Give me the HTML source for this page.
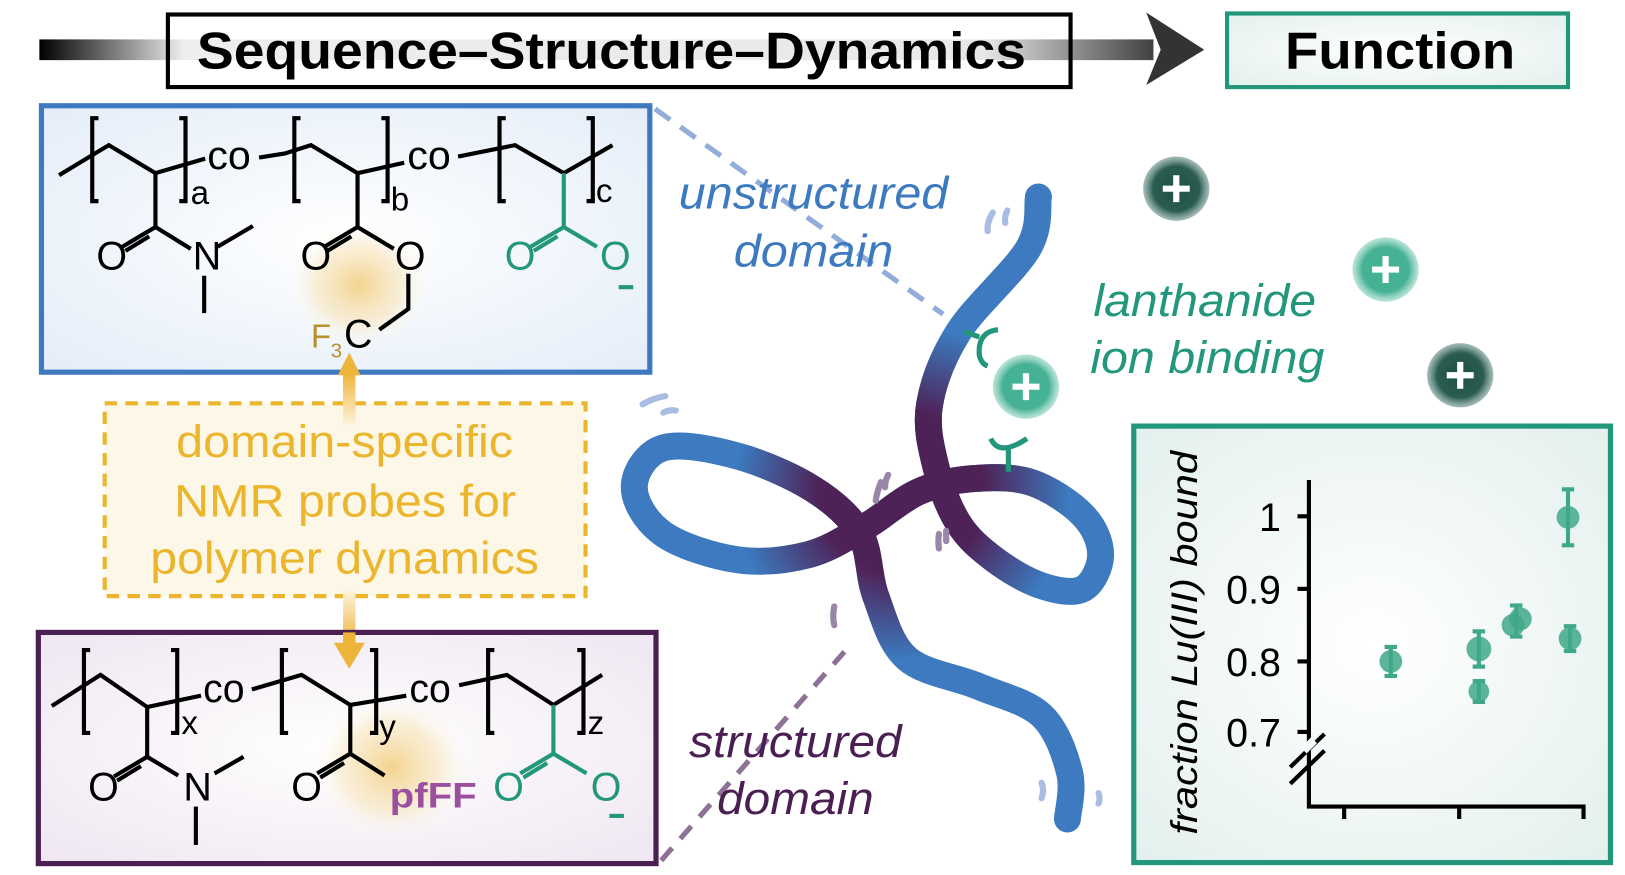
<!DOCTYPE html>
<html><head><meta charset="utf-8"><style>html,body{margin:0;padding:0;background:#fff}svg{display:block}text{font-family:"Liberation Sans",sans-serif}</style></head>
<body>
<svg width="1625" height="875" viewBox="0 0 1568 844" preserveAspectRatio="none" xmlns="http://www.w3.org/2000/svg">
<defs>
<linearGradient id="bar" x1="38" x2="1110" y1="0" y2="0" gradientUnits="userSpaceOnUse">
<stop offset="0" stop-color="#000"/><stop offset="0.13" stop-color="#eee"/><stop offset="0.85" stop-color="#e8e8e8"/><stop offset="1" stop-color="#444"/></linearGradient>
<radialGradient id="blueBg" cx="0.5" cy="0.5" r="0.7"><stop offset="0" stop-color="#fff"/><stop offset="1" stop-color="#e4edf8"/></radialGradient>
<radialGradient id="purBg" cx="0.5" cy="0.5" r="0.7"><stop offset="0" stop-color="#fff"/><stop offset="1" stop-color="#efe6f1"/></radialGradient>
<radialGradient id="tealBg" cx="0.5" cy="0.5" r="0.7"><stop offset="0" stop-color="#fff"/><stop offset="1" stop-color="#e3f0ed"/></radialGradient>
<radialGradient id="glow"><stop offset="0" stop-color="#f3d38e"/><stop offset="0.6" stop-color="#f8e6be" stop-opacity="0.6"/><stop offset="1" stop-color="#fff" stop-opacity="0"/></radialGradient>
<radialGradient id="ionL"><stop offset="0" stop-color="#3fb392"/><stop offset="0.7" stop-color="#47b195"/><stop offset="1" stop-color="#8fd3c0" stop-opacity="0.6"/></radialGradient>
<radialGradient id="ionD"><stop offset="0" stop-color="#1d4f45"/><stop offset="0.7" stop-color="#2a5c52"/><stop offset="1" stop-color="#6b928a" stop-opacity="0.6"/></radialGradient>
<radialGradient id="mg" cx="870" cy="475" r="160" gradientUnits="userSpaceOnUse"><stop offset="0" stop-color="#fff"/><stop offset="0.5" stop-color="#fff"/><stop offset="1" stop-color="#000"/></radialGradient>
<mask id="m"><rect width="1568" height="844" fill="url(#mg)"/></mask>
<linearGradient id="arrUp" x1="0" y1="1" x2="0" y2="0"><stop offset="0" stop-color="#fdf3dc"/><stop offset="1" stop-color="#eeb43a"/></linearGradient>
<linearGradient id="arrDn" x1="0" y1="0" x2="0" y2="1"><stop offset="0" stop-color="#fdf3dc"/><stop offset="1" stop-color="#eeb43a"/></linearGradient>
</defs>

<rect x="38" y="38" width="1075" height="20" fill="url(#bar)"/>
<path d="M1106 12 L1162 48 L1106 82 L1120 48 Z" fill="#333"/>
<rect x="162" y="14" width="871" height="70" fill="none" stroke="#000" stroke-width="4"/>
<text x="190" y="66" font-size="50" font-weight="bold" textLength="800" lengthAdjust="spacingAndGlyphs">Sequence–Structure–Dynamics</text>
<rect x="1184" y="13" width="329" height="71" fill="url(#tealBg)" stroke="#23977b" stroke-width="4"/>
<text x="1240" y="66" font-size="50" font-weight="bold" textLength="222" lengthAdjust="spacingAndGlyphs">Function</text>

<rect x="40" y="102" width="587" height="257" fill="url(#blueBg)" stroke="#3d7abf" stroke-width="5"/>
<ellipse cx="346" cy="275" rx="70" ry="62" fill="url(#glow)"/>
<g stroke="#000" stroke-width="4" fill="none">
<polyline points="57,169 105,140 150,167 198,153"/>
<line x1="150" y1="167" x2="150" y2="219"/>
<line x1="150" y1="219" x2="118" y2="238"/><line x1="144" y1="228" x2="121" y2="242" />
<line x1="150" y1="219" x2="184" y2="240"/>
<line x1="210" y1="238" x2="244" y2="218"/><line x1="197" y1="266" x2="197" y2="302"/>
<path d="M95 114 h-6 v80 h6 M173 114 h6 v80 h-6"/>
<polyline points="250,152 275,148 300,140 345,167 390,157"/>
<line x1="345" y1="167" x2="345" y2="219"/>
<line x1="345" y1="219" x2="313" y2="238"/><line x1="339" y1="228" x2="316" y2="242"/>
<line x1="345" y1="219" x2="380" y2="240"/>
<polyline points="394,264 394,298 366,318"/>
<path d="M290 114 h-6 v80 h6 M368 114 h6 v80 h-6"/>
<polyline points="442,151 497,140 544,167 591,140"/>
<path d="M488 114 h-6 v80 h6 M566 114 h6 v80 h-6"/>
</g>
<g stroke="#23977b" stroke-width="4" fill="none">
<line x1="544" y1="167" x2="544" y2="219"/>
<line x1="544" y1="219" x2="512" y2="238"/><line x1="538" y1="228" x2="515" y2="242"/>
<line x1="544" y1="219" x2="576" y2="238"/>
<line x1="597" y1="277" x2="611" y2="277"/>
</g>
<g font-size="38">
<text x="200" y="163" textLength="42" lengthAdjust="spacingAndGlyphs">co</text>
<text x="393" y="163" textLength="42" lengthAdjust="spacingAndGlyphs">co</text>
<text x="184" y="197" font-size="32">a</text><text x="377" y="203" font-size="32">b</text><text x="575" y="195" font-size="32">c</text>
<text x="93" y="260">O</text><text x="186" y="260">N</text>
<text x="290" y="260">O</text><text x="381" y="260">O</text>
<text x="487" y="260" fill="#23977b">O</text><text x="579" y="260" fill="#23977b">O</text>
<text x="300" y="335" fill="#b8902e" font-size="32">F</text><text x="319" y="345" fill="#b8902e" font-size="20">3</text><text x="332" y="335">C</text>
</g>

<rect x="101" y="389" width="464" height="186" fill="#fdf7e8" stroke="#ebb52c" stroke-width="4" stroke-dasharray="12 8"/>
<rect x="331" y="360" width="12" height="50" fill="url(#arrUp)"/>
<path d="M326 362 L337 340 L348 362 Z" fill="#eeb43a"/>
<rect x="331" y="570" width="12" height="52" fill="url(#arrDn)"/>
<g fill="#ebb52c" font-size="44">
<text x="170" y="441" textLength="325" lengthAdjust="spacingAndGlyphs">domain-specific</text>
<text x="168" y="498" textLength="330" lengthAdjust="spacingAndGlyphs">NMR probes for</text>
<text x="145" y="553" textLength="375" lengthAdjust="spacingAndGlyphs">polymer dynamics</text>
</g>

<rect x="37" y="610" width="596" height="223" fill="url(#purBg)" stroke="#4a1f52" stroke-width="5"/>
<ellipse cx="378" cy="740" rx="78" ry="72" fill="url(#glow)"/>
<rect x="331" y="610" width="12" height="14" fill="#eeb43a"/>
<path d="M322 620 L337 645 L352 620 Z" fill="#eeb43a"/>
<g stroke="#000" stroke-width="4" fill="none">
<polyline points="50,681 97,651 142,682 194,671"/>
<line x1="142" y1="682" x2="142" y2="730"/>
<line x1="142" y1="730" x2="110" y2="749"/><line x1="136" y1="739" x2="113" y2="753"/>
<line x1="142" y1="730" x2="172" y2="748"/>
<line x1="207" y1="746" x2="235" y2="730"/><line x1="189" y1="778" x2="189" y2="815"/>
<path d="M87 627 h-6 v80 h6 M165 627 h6 v80 h-6"/>
<polyline points="243,665 291,651 338,680 392,671"/>
<line x1="338" y1="680" x2="338" y2="727"/>
<line x1="338" y1="727" x2="306" y2="746"/><line x1="332" y1="736" x2="309" y2="750"/>
<line x1="338" y1="727" x2="371" y2="748"/>
<path d="M278 627 h-6 v80 h6 M357 627 h6 v80 h-6"/>
<polyline points="443,661 489,651 534,680 581,651"/>
<path d="M477 627 h-6 v80 h6 M557 627 h6 v80 h-6"/>
</g>
<g stroke="#23977b" stroke-width="4" fill="none">
<line x1="534" y1="680" x2="534" y2="727"/>
<line x1="534" y1="727" x2="502" y2="746"/><line x1="528" y1="736" x2="505" y2="750"/>
<line x1="534" y1="727" x2="566" y2="746"/>
<line x1="588" y1="787" x2="602" y2="787"/>
</g>
<g font-size="38">
<text x="196" y="677" textLength="40" lengthAdjust="spacingAndGlyphs">co</text>
<text x="395" y="677" textLength="40" lengthAdjust="spacingAndGlyphs">co</text>
<text x="175" y="708" font-size="32">x</text><text x="366" y="712" font-size="32">y</text><text x="567" y="708" font-size="32">z</text>
<text x="85" y="772">O</text><text x="177" y="772">N</text>
<text x="281" y="772">O</text>
<text x="476" y="772" fill="#23977b">O</text><text x="570" y="772" fill="#23977b">O</text>
<text x="376" y="779" fill="#9b4f9f" font-weight="bold" font-size="34" textLength="84" lengthAdjust="spacingAndGlyphs">pfFF</text>
</g>

<line x1="632" y1="105" x2="910" y2="303" stroke="#7f9fd3" stroke-width="5" stroke-dasharray="18 12" opacity="0.85"/>
<line x1="638" y1="830" x2="818" y2="625" stroke="#7a5a83" stroke-width="5" stroke-dasharray="16 12" opacity="0.85"/>

<path id="rib" d="M1002,190 C1000.3,198.3 1004.8,218.3 992,240 C979.2,261.7 940.8,295 925,320 C909.2,345 900.7,368.3 897,390 C893.3,411.7 898.3,430.8 903,450 C907.7,469.2 915.5,490 925,505 C934.5,520 946.7,530 960,540 C973.3,550 990.8,560.3 1005,565 C1019.2,569.7 1035.5,573 1045,568 C1054.5,563 1062,546.8 1062,535 C1062,523.2 1056.3,508.7 1045,497 C1033.7,485.3 1012.3,470.8 994,465 C975.7,459.2 953.2,460.3 935,462 C916.8,463.7 901.7,467.3 885,475 C868.3,482.7 852.5,498 835,508 C817.5,518 800.5,529.7 780,535 C759.5,540.3 735.3,543.3 712,540 C688.7,536.7 656.7,526.7 640,515 C623.3,503.3 612,483.8 612,470 C612,456.2 623.3,437 640,432 C656.7,427 687.8,433.3 712,440 C736.2,446.7 765.3,459.5 785,472 C804.7,484.5 820,497.8 830,515 C840,532.2 837.5,555 845,575 C852.5,595 858.5,620.5 875,635 C891.5,649.5 922.3,652.8 944,662 C965.7,671.2 990.3,676.2 1005,690 C1019.7,703.8 1027.8,728.3 1032,745 C1036.2,761.7 1030.3,782.5 1030,790" fill="none" stroke="#3d7abf" stroke-width="26" stroke-linecap="round"/>
<use href="#rib" stroke="#4f2257" mask="url(#m)"/>
<path d="M1002,190 C1000.3,198.3 1004.8,218.3 992,240 C979.2,261.7 940.8,295 925,320 C909.2,345 900.7,368.3 897,390 C893.3,411.7 898.3,430.8 903,450 C907.7,469.2 915.5,490 925,505 C934.5,520 946.7,530 960,540 C973.3,550 990.8,560.3 1005,565 C1019.2,569.7 1035.5,573 1045,568 C1054.5,563 1062,546.8 1062,535 C1062,523.2 1056.3,508.7 1045,497 C1033.7,485.3 1012.3,470.8 994,465 C975.7,459.2 953.2,460.3 935,462 C916.8,463.7 901.7,467.3 885,475 C868.3,482.7 852.5,498 835,508 C817.5,518 800.5,529.7 780,535 C759.5,540.3 735.3,543.3 712,540 C688.7,536.7 656.7,526.7 640,515 C623.3,503.3 612,483.8 612,470 C612,456.2 623.3,437 640,432 C656.7,427 687.8,433.3 712,440 C736.2,446.7 765.3,459.5 785,472 C804.7,484.5 820,497.8 830,515 C840,532.2 837.5,555 845,575 C852.5,595 858.5,620.5 875,635 C891.5,649.5 922.3,652.8 944,662 C965.7,671.2 990.3,676.2 1005,690 C1019.7,703.8 1027.8,728.3 1032,745 C1036.2,761.7 1030.3,782.5 1030,790" fill="none" stroke="#4f2257" stroke-width="26" stroke-linecap="round" mask="url(#m)"/>
<g stroke="#a9bde3" stroke-width="6" stroke-linecap="round" fill="none">
<path d="M958 205 q-6 10 -5 18"/><path d="M972 203 q-3 6 -2 12"/>
<path d="M620 390 q10 -6 22 -8"/><path d="M640 398 q6 -3 12 -2"/>
<path d="M1005 755 q3 8 0 15"/><path d="M1060 765 q2 5 0 10"/>
</g>
<g stroke="#9a87a8" stroke-width="6" stroke-linecap="round" fill="none">
<path d="M850 465 q-4 10 -5 18"/><path d="M857 458 q-3 6 -3 12"/>
<path d="M906 515 q-1 8 0 14"/><path d="M913 512 q0 6 0 10"/>
<path d="M805 585 q-2 10 0 18"/>
</g>
<g stroke="#23977b" stroke-width="5" fill="none">
<path d="M930 320 L945 325 M963 318 q-20 2 -18 25 q2 8 8 10"/>
<path d="M956 423 q8 18 35 0 M973 432 L973 455"/>
</g>

<g font-style="italic" font-size="44">
<text x="655" y="201" fill="#3d7abf" textLength="260" lengthAdjust="spacingAndGlyphs">unstructured</text>
<text x="708" y="257" fill="#3d7abf" textLength="154" lengthAdjust="spacingAndGlyphs">domain</text>
<text x="665" y="730" fill="#4a1f52" textLength="205" lengthAdjust="spacingAndGlyphs">structured</text>
<text x="692" y="785" fill="#4a1f52" textLength="151" lengthAdjust="spacingAndGlyphs">domain</text>
<text x="1055" y="305" fill="#23977b" textLength="215" lengthAdjust="spacingAndGlyphs">lanthanide</text>
<text x="1052" y="360" fill="#23977b" textLength="226" lengthAdjust="spacingAndGlyphs">ion binding</text>
</g>

<g>
<ellipse cx="1135" cy="182" rx="32" ry="31" fill="url(#ionD)"/>
<ellipse cx="1337" cy="260" rx="32" ry="31" fill="url(#ionL)"/>
<ellipse cx="1409" cy="362" rx="32" ry="31" fill="url(#ionD)"/>
<ellipse cx="990" cy="373" rx="32" ry="31" fill="url(#ionL)"/>
<g stroke="#fff" stroke-width="6">
<path d="M1122 182 h26 M1135 169 v26"/><path d="M1324 260 h26 M1337 247 v26"/>
<path d="M1396 362 h26 M1409 349 v26"/><path d="M977 373 h26 M990 360 v26"/>
</g>
</g>

<rect x="1094" y="411" width="460" height="421" fill="url(#tealBg)" stroke="#23977b" stroke-width="5"/>
<g stroke="#000" stroke-width="4" fill="none">
<polyline points="1263,463 1263,778 1528,778 1528,790"/>
<line x1="1297" y1="778" x2="1297" y2="790"/><line x1="1408" y1="778" x2="1408" y2="790"/>
<line x1="1252" y1="498" x2="1263" y2="498"/><line x1="1252" y1="568" x2="1263" y2="568"/>
<line x1="1252" y1="638" x2="1263" y2="638"/><line x1="1252" y1="706" x2="1263" y2="706"/>
<line x1="1245" y1="740" x2="1278" y2="708"/><line x1="1245" y1="756" x2="1278" y2="724"/>
</g>
<line x1="1258" y1="724" x2="1268" y2="714" stroke="#f6faf9" stroke-width="8"/>
<g font-size="38" text-anchor="end">
<text x="1236" y="512">1</text><text x="1236" y="582">0.9</text><text x="1236" y="652">0.8</text><text x="1236" y="720">0.7</text>
</g>
<text transform="translate(1155,805) rotate(-90)" font-size="36" font-style="italic" textLength="370" lengthAdjust="spacingAndGlyphs">fraction Lu(III) bound</text>
<g fill="#3fa88a" fill-opacity="0.85" stroke="#3fa88a" stroke-width="4">
<circle cx="1342" cy="638" r="11" stroke="none"/><path d="M1342 624 v28 M1336 624 h12 M1336 652 h12"/>
<circle cx="1427" cy="626" r="12" stroke="none"/><path d="M1427 609 v34 M1421 609 h12 M1421 643 h12"/>
<circle cx="1427" cy="667" r="10" stroke="none"/><path d="M1427 657 v20 M1421 657 h12 M1421 677 h12"/>
<circle cx="1460" cy="603" r="11" stroke="none"/><circle cx="1467" cy="597" r="11" stroke="none"/><path d="M1463 584 v30 M1457 584 h12 M1457 614 h12"/>
<circle cx="1513" cy="499" r="11" stroke="none"/><path d="M1513 472 v54 M1507 472 h12 M1507 526 h12"/>
<circle cx="1515" cy="616" r="11" stroke="none"/><path d="M1515 604 v24 M1509 604 h12 M1509 628 h12"/>
</g>
</svg>
</body></html>
